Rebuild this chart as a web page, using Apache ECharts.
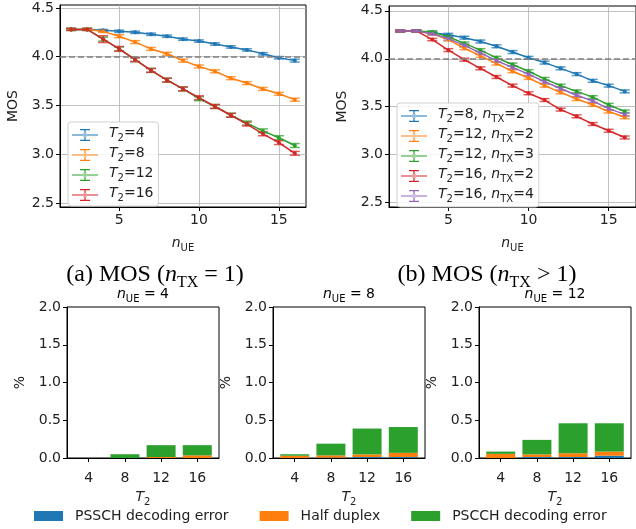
<!DOCTYPE html>
<html>
<head>
<meta charset="utf-8">
<script src="https://cdn.jsdelivr.net/npm/echarts@6/dist/echarts.min.js"></script>
<style>
  html, body { margin: 0; padding: 0; background: #fff; }
  #chart { width: 636px; height: 529px; }
</style>
</head>
<body>
<div id="chart"></div>
<script>
// x values of the MOS plots
const nUE = [2, 3, 4, 5, 6, 7, 8, 9, 10, 11, 12, 13, 14, 15, 16]

// (a) MOS, nTX = 1
const mosT4 = [4.28, 4.28, 4.27, 4.26, 4.25, 4.23, 4.21, 4.18, 4.16, 4.13, 4.10, 4.07, 4.03, 3.99, 3.96]
const mosT8 = [4.28, 4.28, 4.26, 4.21, 4.15, 4.08, 4.03, 3.96, 3.90, 3.85, 3.78, 3.73, 3.67, 3.62, 3.56]
const mosT12 = [4.28, 4.28, 4.18, 4.08, 3.97, 3.86, 3.76, 3.67, 3.57, 3.49, 3.40, 3.32, 3.24, 3.17, 3.09]
const mosT16 = [4.28, 4.28, 4.18, 4.08, 3.97, 3.86, 3.76, 3.67, 3.58, 3.49, 3.40, 3.31, 3.21, 3.12, 3.01]
const errT4 = [0.01, 0.01, 0.01, 0.012, 0.012, 0.012, 0.012, 0.012, 0.012, 0.012, 0.012, 0.012, 0.012, 0.012, 0.015]
const errT8 = [0.01, 0.01, 0.012, 0.015, 0.015, 0.015, 0.015, 0.015, 0.015, 0.015, 0.015, 0.015, 0.015, 0.015, 0.015]
const errT12 = [0.01, 0.01, 0.02, 0.02, 0.02, 0.02, 0.02, 0.02, 0.02, 0.02, 0.02, 0.02, 0.02, 0.02, 0.02]
const errT16 = [0.01, 0.01, 0.035, 0.025, 0.02, 0.02, 0.02, 0.02, 0.02, 0.02, 0.02, 0.02, 0.02, 0.02, 0.02]

// (b) MOS, nTX > 1
const mosT8n2 = [4.29, 4.29, 4.27, 4.25, 4.22, 4.18, 4.13, 4.07, 4.01, 3.96, 3.90, 3.84, 3.77, 3.72, 3.66]
const mosT12n2 = [4.29, 4.29, 4.26, 4.20, 4.11, 4.03, 3.95, 3.87, 3.80, 3.72, 3.65, 3.58, 3.52, 3.45, 3.39]
const mosT12n3 = [4.29, 4.29, 4.28, 4.23, 4.16, 4.09, 4.01, 3.94, 3.87, 3.79, 3.72, 3.66, 3.60, 3.52, 3.45]
const mosT16n2 = [4.29, 4.29, 4.20, 4.09, 3.99, 3.90, 3.81, 3.72, 3.64, 3.57, 3.47, 3.40, 3.32, 3.25, 3.18]
const mosT16n4 = [4.29, 4.29, 4.26, 4.21, 4.14, 4.06, 3.98, 3.91, 3.84, 3.76, 3.69, 3.62, 3.56, 3.48, 3.42]
const errB = [0.01, 0.01, 0.012, 0.015, 0.015, 0.015, 0.015, 0.015, 0.015, 0.015, 0.015, 0.015, 0.015, 0.015, 0.015]

const mosThreshold = 4.0
const mosTicksX = [5, 10, 15]
const mosTicksY = [2.5, 3.0, 3.5, 4.0, 4.5]

// error breakdown bars (%), index = T2 category
const t2Cats = ['4', '8', '12', '16']
const ueTitles = ['4', '8', '12']
const psschN4 = [0, 0, 0, 0]
const halfN4 = [0, 0, 0.013, 0.035]
const pscchN4 = [0, 0.05, 0.157, 0.135]
const psschN8 = [0, 0.005, 0.013, 0.013]
const halfN8 = [0.03, 0.03, 0.035, 0.055]
const pscchN8 = [0.02, 0.155, 0.342, 0.342]
const psschN12 = [0, 0.013, 0.013, 0.03]
const halfN12 = [0.055, 0.035, 0.05, 0.055]
const pscchN12 = [0.03, 0.192, 0.397, 0.375]

const C = { blue: '#1f77b4', orange: '#ff7f0e', green: '#2ca02c', red: '#d62728', purple: '#9467bd' }
const FONT = 'DejaVu Sans'
const TXT = '#222'

// rich styles for subscripts
const rich = {
  i: { fontFamily: FONT, fontSize: 14, fontStyle: 'italic', color: TXT, verticalAlign: 'bottom', padding: [0, 0, 3, 0] },
  r: { fontFamily: FONT, fontSize: 14, color: TXT, verticalAlign: 'bottom', padding: [0, 0, 3, 0] },
  s: { fontFamily: FONT, fontSize: 10, color: TXT, verticalAlign: 'bottom' }
}
const serifRich = {
  r: { fontFamily: 'Liberation Serif', fontSize: 24, color: '#111', verticalAlign: 'bottom', padding: [0, 0, 4, 0] },
  i: { fontFamily: 'Liberation Serif', fontSize: 24, fontStyle: 'italic', color: '#111', verticalAlign: 'bottom', padding: [0, 0, 4, 0] },
  s: { fontFamily: 'Liberation Serif', fontSize: 16, color: '#111', verticalAlign: 'bottom' }
}

function errorBar(params, api) {
  const x = api.value(0)
  const lo = api.coord([x, api.value(1)])
  const hi = api.coord([x, api.value(2)])
  const cap = 5
  const style = { stroke: api.visual('color'), lineWidth: 1.5, opacity: 0.75 }
  return {
    type: 'group',
    children: [
      { type: 'line', shape: { x1: hi[0], y1: hi[1], x2: lo[0], y2: lo[1] }, style },
      { type: 'line', shape: { x1: hi[0] - cap, y1: hi[1], x2: hi[0] + cap, y2: hi[1] }, style },
      { type: 'line', shape: { x1: lo[0] - cap, y1: lo[1], x2: lo[0] + cap, y2: lo[1] }, style }
    ]
  }
}

const series = []
function mosSeries(gi, name, color, mos, err) {
  series.push({
    name, type: 'line', xAxisIndex: gi, yAxisIndex: gi,
    data: nUE.map((x, i) => [x, mos[i]]),
    color, symbol: 'circle', symbolSize: 4, showSymbol: true,
    lineStyle: { width: 1.5 }, emphasis: { disabled: true }, z: 3
  })
  series.push({
    name: name + '_err', type: 'custom', xAxisIndex: gi, yAxisIndex: gi,
    renderItem: errorBar, color, z: 3,
    data: nUE.map((x, i) => [x, mos[i] - err[i], mos[i] + err[i]]),
    encode: { x: 0, y: [1, 2] }
  })
}
mosSeries(0, 'T2=4', C.blue, mosT4, errT4)
mosSeries(0, 'T2=8', C.orange, mosT8, errT8)
mosSeries(0, 'T2=12', C.green, mosT12, errT12)
mosSeries(0, 'T2=16', C.red, mosT16, errT16)
mosSeries(1, 'T2=8, nTX=2', C.blue, mosT8n2, errB)
mosSeries(1, 'T2=12, nTX=2', C.orange, mosT12n2, errB)
mosSeries(1, 'T2=12, nTX=3', C.green, mosT12n3, errB)
mosSeries(1, 'T2=16, nTX=2', C.red, mosT16n2, errB)
mosSeries(1, 'T2=16, nTX=4', C.purple, mosT16n4, errB)

// dashed 4.0 reference line in both MOS plots
;[0, 1].forEach(gi => {
  series.push({
    type: 'line', xAxisIndex: gi, yAxisIndex: gi, data: [], silent: true,
    markLine: {
      silent: true, symbol: 'none', label: { show: false },
      lineStyle: { color: '#808080', type: [6, 3], width: 1.5 },
      data: [{ yAxis: mosThreshold }]
    }
  })
})

const barGroups = [
  [psschN4, halfN4, pscchN4],
  [psschN8, halfN8, pscchN8],
  [psschN12, halfN12, pscchN12]
]
const barNames = ['PSSCH decoding error', 'Half duplex', 'PSCCH decoding error']
const barColors = [C.blue, C.orange, C.green]
barGroups.forEach((grp, k) => {
  grp.forEach((vals, j) => {
    // value first so the stack is applied to the y dimension
    series.push({
      name: barNames[j], type: 'bar', xAxisIndex: k + 2, yAxisIndex: k + 2,
      stack: 'ue' + k, barWidth: 29, color: barColors[j],
      encode: { x: 1, y: 0 },
      data: vals.map((v, i) => [v, i])
    })
  })
})

const gridA = { left: 60, top: 5, width: 246, height: 202 }
const gridB = { left: 389, top: 6, width: 249, height: 201 }
const barGrids = [67, 273, 479].map(l => ({ left: l, top: 307, width: 152, height: 151 }))
const frame = { show: true, borderColor: '#000', borderWidth: 1, backgroundColor: 'transparent' }

const tickStyle = { show: true, length: 4, lineStyle: { color: '#000', width: 1 } }
const labelStyle = { color: TXT, fontFamily: FONT, fontSize: 14 }

function mosX(gi) {
  return {
    type: 'value', gridIndex: gi, min: 1.3, max: 16.7,
    axisLine: { show: true, onZero: false, lineStyle: { color: '#000' } },
    axisTick: { ...tickStyle, customValues: mosTicksX },
    axisLabel: { ...labelStyle, margin: 6, customValues: mosTicksX },
    splitLine: { show: true, lineStyle: { color: '#b0b0b0', width: 0.8 } },
    name: '{i|n}{s|UE}', nameLocation: 'middle', nameGap: 29,
    nameTextStyle: { rich }
  }
}
function mosY(gi, min, max) {
  return {
    type: 'value', gridIndex: gi, min, max,
    axisLine: { show: true, onZero: false, lineStyle: { color: '#000' } },
    axisTick: { ...tickStyle, customValues: mosTicksY },
    axisLabel: { ...labelStyle, margin: 6, customValues: mosTicksY, formatter: v => v.toFixed(1) },
    splitLine: { show: true, lineStyle: { color: '#b0b0b0', width: 0.8 } },
    name: 'MOS', nameLocation: 'middle', nameGap: 40,
    nameTextStyle: { ...labelStyle }
  }
}
const xAxes = [mosX(0), mosX(1)]
const yAxes = [mosY(0, 2.46, 4.53), mosY(1, 2.455, 4.55)]
barGrids.forEach((g, k) => {
  xAxes.push({
    type: 'value', gridIndex: k + 2, min: -0.6, max: 3.6,
    axisLine: { show: true, onZero: false, lineStyle: { color: '#000' } },
    axisTick: { ...tickStyle, customValues: [0, 1, 2, 3] },
    axisLabel: { ...labelStyle, margin: 13, customValues: [0, 1, 2, 3], formatter: v => t2Cats[v] },
    splitLine: { show: false },
    name: '{i|T}{s|2}', nameLocation: 'middle', nameGap: 32,
    nameTextStyle: { rich }
  })
  yAxes.push({
    type: 'value', gridIndex: k + 2, min: 0, max: 2, interval: 0.5,
    axisLine: { show: true, onZero: false, lineStyle: { color: '#000' } },
    axisTick: tickStyle,
    axisLabel: { ...labelStyle, margin: 6, formatter: v => v.toFixed(1) },
    splitLine: { show: false },
    name: '%', nameLocation: 'middle', nameGap: 40,
    nameTextStyle: { ...labelStyle }
  })
})

// legend labels with italic T and subscripts
function legendLabel(name) {
  const m = name.match(/^T2=(\d+)(, nTX=(\d+))?$/)
  if (!m) return name
  let s = '{i|T}{s|2}{r|=' + m[1] + '}'
  if (m[3]) s += '{r|, }{i|n}{s|TX}{r|=' + m[3] + '}'
  return s
}
const errIcon = 'path://M0,5.4h26v1.2h-26z M12.4,0h1.2v12h-1.2z M8,0h10v1.2h-10z M8,10.8h10v1.2h-10z M11,6a2,2 0 1,0 4,0a2,2 0 1,0 -4,0z'
const mosLegend = {
  orient: 'vertical', icon: errIcon, itemWidth: 26, itemHeight: 12, itemGap: 3,
  padding: [4, 5, 3, 4], borderColor: '#d0d0d0', borderWidth: 1, borderRadius: 3,
  backgroundColor: 'rgba(255,255,255,0.85)', selectedMode: false,
  formatter: legendLabel,
  textStyle: { rich, padding: [0, 0, 0, 6], lineHeight: 16 }
}

const captions = [
  { x: 155, y: 277, text: '{r|(a) MOS (}{i|n}{s|TX}{r| = 1)}' },
  { x: 487, y: 277, text: '{r|(b) MOS (}{i|n}{s|TX}{r| > 1)}' }
]
const graphic = captions.map(c => ({
  type: 'text', x: c.x, y: c.y,
  style: { text: c.text, rich: serifRich, align: 'center', verticalAlign: 'middle' }
}))
barGrids.forEach((g, k) => {
  graphic.push({
    type: 'text', x: g.left + g.width / 2, y: 296,
    style: { text: '{i|n}{s|UE}{r| = ' + ueTitles[k] + '}', rich, align: 'center', verticalAlign: 'middle' }
  })
})

const chart = echarts.init(document.getElementById('chart'), null, { renderer: 'canvas' })
chart.setOption({
  animation: false,
  backgroundColor: '#fff',
  textStyle: { fontFamily: FONT },
  grid: [{ ...gridA, ...frame }, { ...gridB, ...frame }, ...barGrids.map(g => ({ ...g, ...frame }))],
  xAxis: xAxes,
  yAxis: yAxes,
  legend: [
    { ...mosLegend, left: 68, top: 122, data: ['T2=4', 'T2=8', 'T2=12', 'T2=16'] },
    { ...mosLegend, left: 397, top: 103, data: ['T2=8, nTX=2', 'T2=12, nTX=2', 'T2=12, nTX=3', 'T2=16, nTX=2', 'T2=16, nTX=4'] },
    {
      left: 29, top: 504, icon: 'rect', itemWidth: 29, itemHeight: 10, itemGap: 31,
      selectedMode: false, data: barNames,
      textStyle: { fontFamily: FONT, fontSize: 14, color: TXT, padding: [0, 0, 0, 7] }
    }
  ],
  graphic,
  series
})
</script>
</body>
</html>
